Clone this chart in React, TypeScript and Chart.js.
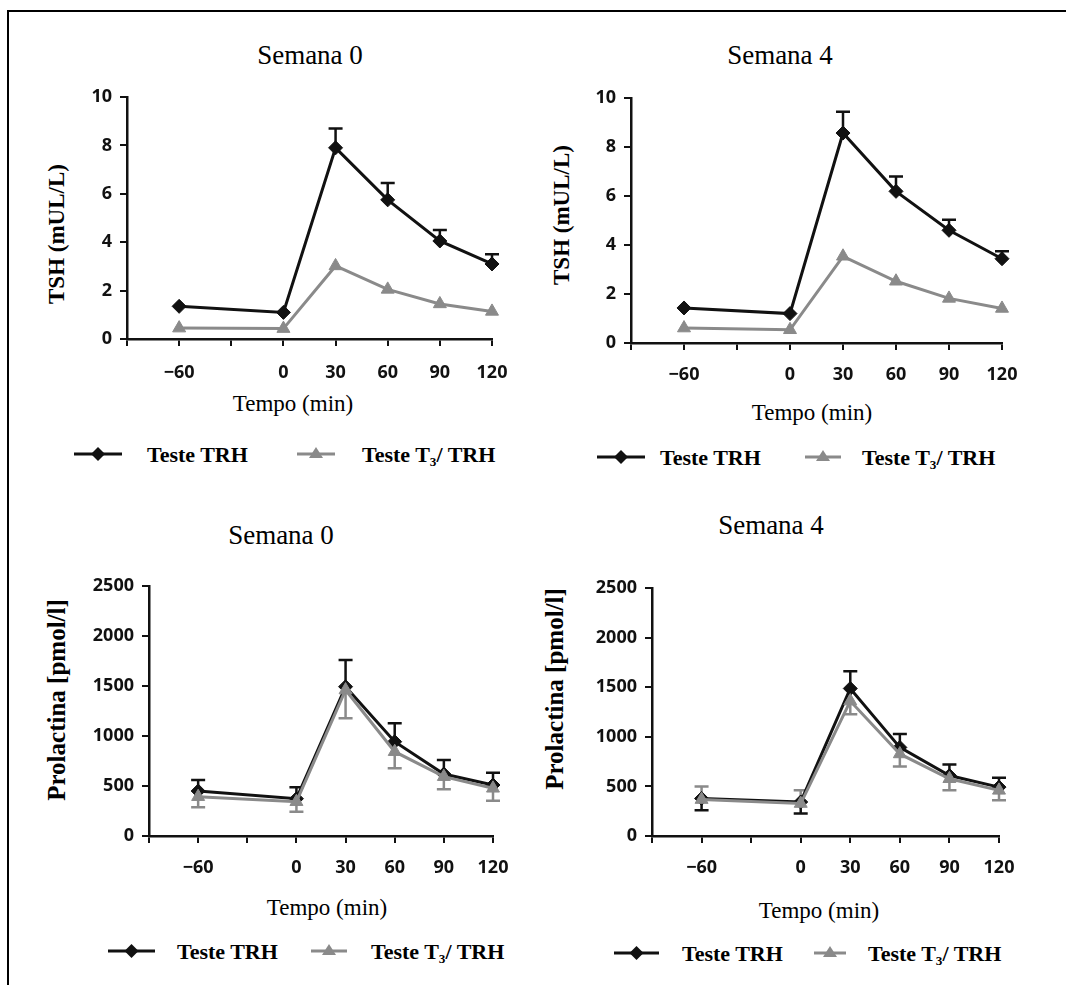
import React, { useEffect, useRef } from "react";
import { Chart, registerables } from "chart.js";
Chart.register(...registerables);

// ---------- DATA ----------
const timePoints = [-60, 0, 30, 60, 90, 120];
const labeledTicks = [-60, 0, 30, 60, 90, 120];
const xMin = -90;
const xMax = 120;

// TSH, Semana 0
const tshW0Trh = [1.35, 1.1, 7.9, 5.75, 4.05, 3.1];
const tshW0TrhUpper = [null, null, 8.7, 6.45, 4.5, 3.5];
const tshW0T3 = [0.45, 0.43, 3.02, 2.05, 1.45, 1.14];

// TSH, Semana 4
const tshW4Trh = [1.43, 1.2, 8.57, 6.19, 4.6, 3.44];
const tshW4TrhUpper = [null, null, 9.44, 6.8, 5.03, 3.74];
const tshW4T3 = [0.61, 0.54, 3.54, 2.52, 1.82, 1.41];

// Prolactina, Semana 0
const prlW0Trh = [450, 373, 1493, 943, 620, 510];
const prlW0TrhUpper = [560, 487, 1760, 1127, 760, 633];
const prlW0T3 = [393, 343, 1460, 843, 593, 477];
const prlW0T3Lower = [287, 243, 1177, 677, 467, 353];

// Prolactina, Semana 4
const prlW4Trh = [378, 343, 1487, 893, 610, 493];
const prlW4TrhUpper = [null, null, 1660, 1027, 720, 587];
const prlW4TrhLower = [260, 227, null, null, null, null];
const prlW4T3 = [367, 327, 1360, 827, 577, 460];
const prlW4T3Upper = [500, 460, null, null, null, null];
const prlW4T3Lower = [null, null, 1227, 700, 460, 360];

const tshTicks = { max: 10, step: 2 };
const prlTicks = { max: 2500, step: 500 };

const BLACK = "#111111";
const GRAY = "#8a8a8a";
const SERIF = "'Liberation Serif', 'Times New Roman', serif";
const TICKFONT = "'Open Sans', 'DejaVu Sans', sans-serif";

// ---------- error bar plugin ----------
const errorBarPlugin = {
  id: "errorBars",
  beforeDatasetsDraw(chart: any) {
    const ctx = chart.ctx;
    const yScale = chart.scales.y;
    chart.data.datasets.forEach((ds: any, i: number) => {
      const meta = chart.getDatasetMeta(i);
      ctx.save();
      ctx.strokeStyle = ds.borderColor;
      ctx.lineWidth = 2.5;
      [ds.errorUpper, ds.errorLower].forEach((arr: any) => {
        if (!arr) return;
        arr.forEach((v: number | null, j: number) => {
          if (v == null) return;
          const pt = meta.data[j];
          const yv = yScale.getPixelForValue(v);
          ctx.beginPath();
          ctx.moveTo(pt.x, pt.y);
          ctx.lineTo(pt.x, yv);
          ctx.moveTo(pt.x - 7, yv);
          ctx.lineTo(pt.x + 7, yv);
          ctx.stroke();
        });
      });
      ctx.restore();
    });
  },
};

const toXY = (vals: number[]) => timePoints.map((t, i) => ({ x: t, y: vals[i] }));

type PanelCfg = {
  left: number;
  top: number;
  yw: number;
  pt: number;
  pr: number;
  xh: number;
  plotW: number;
  plotH: number;
  xPad: number;
  yTicks: { max: number; step: number };
  trh: number[];
  trhUpper?: (number | null)[];
  trhLower?: (number | null)[];
  t3: number[];
  t3Upper?: (number | null)[];
  t3Lower?: (number | null)[];
};

function ChartPanel({ cfg }: { cfg: PanelCfg }) {
  const ref = useRef<HTMLCanvasElement>(null);
  const w = cfg.yw + cfg.plotW + cfg.pr;
  const h = cfg.pt + cfg.plotH + cfg.xh;
  useEffect(() => {
    const gridOpts = {
      drawOnChartArea: false,
      drawTicks: true,
      tickLength: 7,
      color: BLACK,
      lineWidth: 2,
    };
    const borderOpts = { display: true, color: BLACK, width: 2.5 };
    const tickFont = { family: TICKFONT, weight: "bold" as const, size: 18 };
    const chart = new Chart(ref.current as HTMLCanvasElement, {
      type: "line",
      data: {
        datasets: [
          {
            label: "Teste TRH",
            data: toXY(cfg.trh),
            borderColor: BLACK,
            backgroundColor: BLACK,
            borderWidth: 3,
            pointStyle: "rectRot",
            pointRadius: 7,
            pointBorderWidth: 1,
            tension: 0,
            order: 2,
            clip: false,
            errorUpper: cfg.trhUpper,
            errorLower: cfg.trhLower,
          } as any,
          {
            label: "Teste T3/ TRH",
            data: toXY(cfg.t3),
            borderColor: GRAY,
            backgroundColor: GRAY,
            borderWidth: 3,
            pointStyle: "triangle",
            pointRadius: 7.5,
            pointBorderWidth: 1,
            tension: 0,
            order: 1,
            clip: false,
            errorUpper: cfg.t3Upper,
            errorLower: cfg.t3Lower,
          } as any,
        ],
      },
      options: {
        responsive: false,
        animation: false,
        devicePixelRatio: 1,
        layout: { padding: { top: cfg.pt, right: cfg.pr, left: 0, bottom: 0 } },
        plugins: {
          legend: { display: false },
          title: { display: false },
          tooltip: { enabled: false },
        },
        scales: {
          x: {
            type: "linear",
            min: xMin,
            max: xMax,
            afterFit: (s: any) => {
              s.height = cfg.xh;
              s.paddingLeft = 0;
              s.paddingRight = 0;
            },
            ticks: {
              stepSize: 30,
              autoSkip: false,
              maxRotation: 0,
              padding: cfg.xPad,
              font: tickFont,
              color: BLACK,
              callback: (v: any) =>
                labeledTicks.includes(Number(v))
                  ? Number(v) < 0
                    ? "\u2212" + Math.abs(Number(v))
                    : String(v)
                  : "",
            },
            grid: gridOpts,
            border: borderOpts,
          },
          y: {
            type: "linear",
            min: 0,
            max: cfg.yTicks.max,
            afterFit: (s: any) => {
              s.width = cfg.yw;
              s.paddingTop = 0;
              s.paddingBottom = 0;
            },
            ticks: {
              stepSize: cfg.yTicks.step,
              padding: 8,
              font: tickFont,
              color: BLACK,
              callback: (v: any) => String(v),
            },
            grid: gridOpts,
            border: borderOpts,
          },
        },
      } as any,
      plugins: [errorBarPlugin],
    });
    return () => chart.destroy();
  }, []);
  return (
    <canvas
      ref={ref}
      width={w}
      height={h}
      style={{ position: "absolute", left: cfg.left, top: cfg.top, width: w, height: h }}
    />
  );
}

function CenterText({
  x,
  y,
  text,
  size,
  bold,
  rotate,
}: {
  x: number;
  y: number;
  text: string;
  size: number;
  bold?: boolean;
  rotate?: boolean;
}) {
  return (
    <div
      style={{
        position: "absolute",
        left: x,
        top: y,
        transform: `translate(-50%, -50%)${rotate ? " rotate(-90deg)" : ""}`,
        whiteSpace: "nowrap",
        fontFamily: SERIF,
        fontSize: size,
        fontWeight: bold ? "bold" : "normal",
        lineHeight: 1,
        color: "#000",
      }}
    >
      {text}
    </div>
  );
}

function LegendSymbol({
  x1,
  x2,
  y,
  kind,
}: {
  x1: number;
  x2: number;
  y: number;
  kind: "diamond" | "triangle";
}) {
  const w = x2 - x1;
  const cx = w / 2;
  const color = kind === "diamond" ? BLACK : GRAY;
  return (
    <svg width={w} height={20} style={{ position: "absolute", left: x1, top: y - 10 }}>
      <line x1={0} y1={10} x2={w} y2={10} stroke={color} strokeWidth={3} />
      {kind === "diamond" ? (
        <polygon points={`${cx},3 ${cx + 7},10 ${cx},17 ${cx - 7},10`} fill={color} />
      ) : (
        <polygon points={`${cx},3 ${cx + 7},14 ${cx - 7},14`} fill={color} />
      )}
    </svg>
  );
}

function LegendText({ x, y, t3 }: { x: number; y: number; t3?: boolean }) {
  return (
    <div
      style={{
        position: "absolute",
        left: x,
        top: y,
        transform: "translateY(-50%)",
        whiteSpace: "nowrap",
        fontFamily: SERIF,
        fontSize: 22,
        fontWeight: "bold",
        lineHeight: 1,
        color: "#000",
      }}
    >
      {t3 ? (
        <>
          Teste T
          <sub style={{ fontSize: "0.6em", verticalAlign: "-0.3em", lineHeight: 0 }}>3</sub>/ TRH
        </>
      ) : (
        "Teste TRH"
      )}
    </div>
  );
}

function Legend({
  s1,
  t1,
  s2,
  t2,
  y,
}: {
  s1: [number, number];
  t1: number;
  s2: [number, number];
  t2: number;
  y: number;
}) {
  return (
    <>
      <LegendSymbol x1={s1[0]} x2={s1[1]} y={y} kind="diamond" />
      <LegendText x={t1} y={y + 1} />
      <LegendSymbol x1={s2[0]} x2={s2[1]} y={y} kind="triangle" />
      <LegendText x={t2} y={y + 1} t3 />
    </>
  );
}

const panels: PanelCfg[] = [
  {
    left: 77, top: 83, yw: 50, pt: 14, pr: 22, xh: 50, plotW: 365, plotH: 242, xPad: 16,
    yTicks: tshTicks, trh: tshW0Trh, trhUpper: tshW0TrhUpper, t3: tshW0T3,
  },
  {
    left: 581, top: 84, yw: 50, pt: 14, pr: 22, xh: 50, plotW: 371, plotH: 245, xPad: 14,
    yTicks: tshTicks, trh: tshW4Trh, trhUpper: tshW4TrhUpper, t3: tshW4T3,
  },
  {
    left: 83, top: 572, yw: 66, pt: 14, pr: 22, xh: 50, plotW: 344, plotH: 250, xPad: 14,
    yTicks: prlTicks, trh: prlW0Trh, trhUpper: prlW0TrhUpper, t3: prlW0T3, t3Lower: prlW0T3Lower,
  },
  {
    left: 586, top: 574, yw: 66, pt: 14, pr: 22, xh: 50, plotW: 347, plotH: 248, xPad: 14,
    yTicks: prlTicks, trh: prlW4Trh, trhUpper: prlW4TrhUpper, trhLower: prlW4TrhLower,
    t3: prlW4T3, t3Upper: prlW4T3Upper, t3Lower: prlW4T3Lower,
  },
];

export default function App() {
  return (
    <div
      style={{
        position: "absolute",
        left: 0,
        top: 0,
        width: 1066,
        height: 985,
        overflow: "hidden",
        background: "#fff",
      }}
    >
      <div
        style={{
          position: "absolute",
          left: 7,
          top: 10,
          width: 1070,
          height: 980,
          boxSizing: "border-box",
          borderTop: "2px solid #000",
          borderLeft: "2px solid #000",
        }}
      />
      {panels.map((p, i) => (
        <ChartPanel key={i} cfg={p} />
      ))}

      {/* Titles */}
      <CenterText x={310} y={55} text="Semana 0" size={27} />
      <CenterText x={780} y={55} text="Semana 4" size={27} />
      <CenterText x={281} y={535} text="Semana 0" size={27} />
      <CenterText x={771} y={525} text="Semana 4" size={27} />

      {/* X axis titles */}
      <CenterText x={293} y={403} text="Tempo (min)" size={23} />
      <CenterText x={812} y={412} text="Tempo (min)" size={23} />
      <CenterText x={327} y={907} text="Tempo (min)" size={23} />
      <CenterText x={819} y={910} text="Tempo (min)" size={23} />

      {/* Y axis titles */}
      <CenterText x={56} y={234} text="TSH (mUL/L)" size={23} bold rotate />
      <CenterText x={561} y={215} text="TSH (mUL/L)" size={23} bold rotate />
      <CenterText x={56} y={700} text="Prolactina [pmol/l]" size={25} bold rotate />
      <CenterText x={554} y={689} text="Prolactina [pmol/l]" size={25} bold rotate />

      {/* Legends */}
      <Legend s1={[74, 122]} t1={147} s2={[297, 335]} t2={362} y={454} />
      <Legend s1={[597, 645]} t1={660} s2={[805, 841]} t2={862} y={457} />
      <Legend s1={[108, 155]} t1={177} s2={[311, 347]} t2={371} y={951} />
      <Legend s1={[614, 659]} t1={682} s2={[814, 846]} t2={868} y={953} />
    </div>
  );
}
